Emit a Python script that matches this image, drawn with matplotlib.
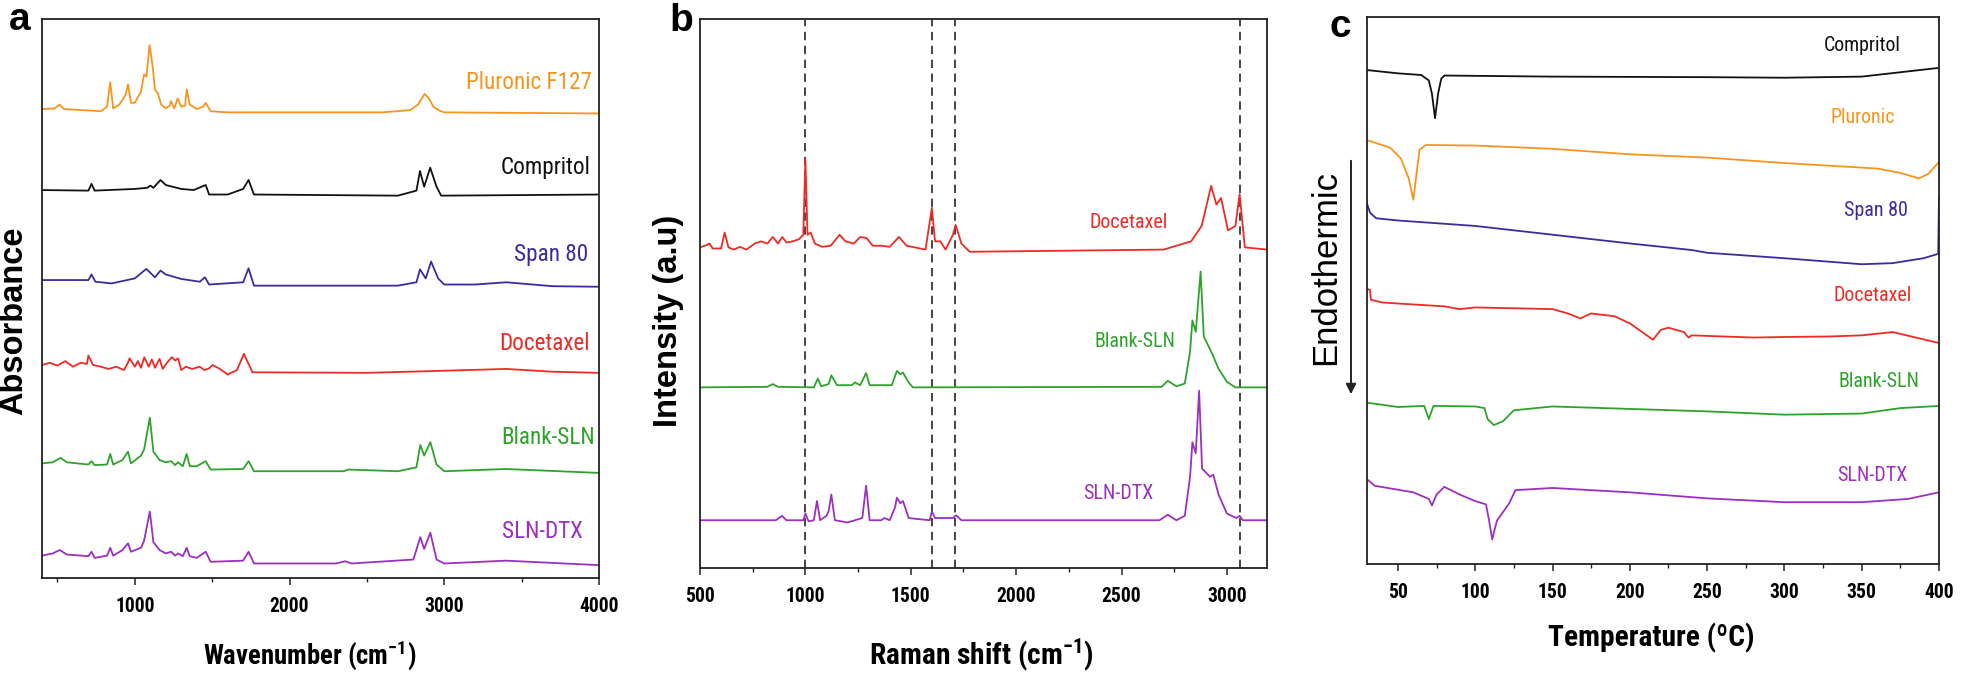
import numpy as np
import matplotlib
matplotlib.use("Agg")
from matplotlib import pyplot as plt
from matplotlib import font_manager
from matplotlib.ticker import MultipleLocator

# ---------------- data (a) FTIR ----------------
a_names = ["Pluronic F127", "Compritol", "Span 80", "Docetaxel", "Blank-SLN", "SLN-DTX"]
a_colors = ["#f7941d", "#111111", "#3b2c9e", "#ee2a24", "#2ea32a", "#9b2fc0"]

pluronic_x = [400, 480, 515, 540, 780, 820, 841, 860, 900, 940, 956, 975, 1000, 1040, 1060, 1075, 1095, 1115,
              1130, 1150, 1170, 1200, 1225, 1233, 1255, 1277, 1300, 1325, 1335, 1355, 1400, 1440, 1458, 1490,
              1600, 2000, 2600, 2780, 2830, 2873, 2900, 2930, 2970, 3000, 4000]
pluronic_y = [8.39, 8.40, 8.47, 8.39, 8.35, 8.43, 8.87, 8.40, 8.47, 8.64, 8.83, 8.50, 8.50, 8.70, 9.01, 8.97, 9.53, 9.16,
              8.74, 8.66, 8.47, 8.40, 8.45, 8.53, 8.40, 8.58, 8.43, 8.45, 8.74, 8.47, 8.39, 8.43, 8.50, 8.35,
              8.33, 8.33, 8.33, 8.37, 8.47, 8.66, 8.58, 8.43, 8.36, 8.33, 8.31]

compritol_x = [400, 700, 720, 740, 1000, 1080, 1100, 1120, 1166, 1200, 1300, 1380, 1458, 1480, 1600, 1700, 1735,
               1770, 2700, 2820, 2843, 2870, 2909, 2950, 2980, 4000]
compritol_y = [6.94, 6.93, 7.05, 6.93, 6.96, 6.98, 7.02, 6.98, 7.12, 7.03, 6.96, 6.94, 7.03, 6.86, 6.86, 6.96, 7.12,
               6.86, 6.84, 6.93, 7.28, 7.00, 7.34, 7.00, 6.84, 6.86]

span_x = [400, 700, 720, 745, 850, 950, 1000, 1074, 1130, 1166, 1200, 1300, 1420, 1453, 1480, 1700, 1735, 1770,
          2700, 2820, 2843, 2880, 2915, 2960, 3000, 3200, 3400, 3700, 4000]
span_y = [5.33, 5.33, 5.43, 5.30, 5.27, 5.33, 5.36, 5.53, 5.38, 5.50, 5.43, 5.35, 5.30, 5.38, 5.25, 5.29, 5.54, 5.23,
          5.23, 5.29, 5.52, 5.36, 5.66, 5.36, 5.25, 5.25, 5.29, 5.22, 5.21]

doce_a_x = [400, 450, 500, 550, 600, 650, 690, 700, 730, 780, 830, 880, 930, 955, 966, 1000, 1020, 1040, 1061,
            1090, 1110, 1130, 1160, 1180, 1210, 1240, 1260, 1280, 1300, 1330, 1370, 1420, 1450, 1480, 1502,
            1550, 1600, 1660, 1705, 1730, 1760, 2500, 2900, 3400, 3700, 4000]
doce_a_y = [3.81, 3.85, 3.80, 3.88, 3.78, 3.85, 3.83, 3.98, 3.81, 3.78, 3.74, 3.78, 3.72, 3.85, 3.93, 3.78, 3.88, 3.76, 3.95,
            3.78, 3.91, 3.76, 3.92, 3.74, 3.86, 3.95, 3.89, 3.93, 3.72, 3.78, 3.74, 3.78, 3.72, 3.75, 3.81,
            3.74, 3.64, 3.72, 4.01, 3.86, 3.68, 3.67, 3.70, 3.74, 3.69, 3.67]

blank_a_x = [400, 470, 520, 560, 700, 720, 740, 820, 841, 860, 920, 956, 975, 1040, 1060, 1097, 1120, 1160, 1200,
             1235, 1260, 1280, 1310, 1335, 1355, 1400, 1458, 1490, 1700, 1735, 1770, 2350, 2380, 2700, 2820,
             2845, 2870, 2910, 2950, 3000, 3400, 4000]
blank_a_y = [2.05, 2.07, 2.15, 2.07, 2.03, 2.09, 2.02, 2.03, 2.22, 2.03, 2.11, 2.26, 2.05, 2.19, 2.30, 2.87, 2.26, 2.11, 2.07,
             2.09, 2.02, 2.07, 2.00, 2.22, 2.00, 2.00, 2.09, 1.94, 1.95, 2.09, 1.91, 1.91, 1.94, 1.91, 1.98,
             2.38, 2.19, 2.43, 2.03, 1.91, 1.95, 1.88]

sln_a_x = [400, 470, 515, 560, 700, 720, 740, 820, 841, 860, 920, 956, 975, 1040, 1060, 1097, 1120, 1160, 1200,
           1235, 1260, 1280, 1310, 1335, 1355, 1400, 1458, 1490, 1700, 1735, 1770, 2300, 2360, 2400, 2800,
           2845, 2870, 2910, 2950, 3000, 3400, 4000]
sln_a_y = [0.40, 0.44, 0.50, 0.42, 0.39, 0.47, 0.36, 0.40, 0.54, 0.40, 0.50, 0.62, 0.47, 0.54, 0.67, 1.19, 0.64, 0.50, 0.44,
           0.47, 0.40, 0.44, 0.39, 0.54, 0.39, 0.36, 0.47, 0.29, 0.31, 0.47, 0.26, 0.26, 0.30, 0.26, 0.33,
           0.73, 0.52, 0.81, 0.33, 0.26, 0.31, 0.23]

a_label_x = [3955, 3942, 3930, 3937, 3975, 3893]
a_label_y = [8.87, 7.34, 5.79, 4.20, 2.51, 0.83]

# ---------------- data (b) Raman ----------------
b_names = ["Docetaxel", "Blank-SLN", "SLN-DTX"]
b_colors = ["#ee2a24", "#2ea32a", "#9b2fc0"]
b_dashed = [1000, 1600, 1710, 3060]

doce_b_x = [500, 530, 545, 560, 600, 617, 635, 660, 690, 720, 760, 790, 820, 845, 870, 890, 910, 940, 970, 990,
            1000, 1010, 1025, 1045, 1080, 1120, 1162, 1190, 1230, 1260, 1290, 1320, 1360, 1400, 1444, 1480,
            1570, 1600, 1615, 1640, 1665, 1700, 1713, 1740, 1780, 2700, 2830, 2880, 2925, 2950, 2972, 3005,
            3040, 3060, 3085, 3190]
doce_b_y = [5.84, 5.88, 5.91, 5.82, 5.82, 6.11, 5.84, 5.80, 5.85, 5.80, 5.91, 5.95, 5.91, 6.03, 5.91, 6.03, 5.93, 5.95, 5.99, 6.07,
            7.45, 6.07, 6.11, 5.91, 5.85, 5.87, 6.07, 5.95, 5.91, 6.03, 6.01, 5.87, 5.87, 5.85, 6.03, 5.87,
            5.80, 6.56, 5.95, 5.95, 5.80, 6.07, 6.25, 5.91, 5.76, 5.80, 5.95, 6.23, 6.96, 6.62, 6.74, 6.15,
            6.23, 6.81, 5.84, 5.80]

blank_b_x = [500, 820, 845, 870, 1040, 1059, 1075, 1110, 1123, 1150, 1220, 1235, 1260, 1288, 1305, 1410, 1434,
             1450, 1463, 1490, 1510, 2690, 2719, 2760, 2800, 2825, 2836, 2852, 2875, 2890, 2905, 2930, 2960,
             3000, 3040, 3190]
blank_b_y = [3.29, 3.30, 3.35, 3.30, 3.29, 3.45, 3.31, 3.35, 3.51, 3.33, 3.33, 3.38, 3.33, 3.55, 3.33, 3.33, 3.59,
             3.53, 3.56, 3.38, 3.29, 3.30, 3.41, 3.31, 3.36, 3.94, 4.51, 4.30, 5.40, 4.22, 4.10, 3.90, 3.63,
             3.39, 3.29, 3.29]

sln_b_x = [500, 860, 889, 910, 990, 1000, 1015, 1040, 1055, 1070, 1100, 1110, 1123, 1140, 1200, 1270, 1288, 1305,
           1360, 1375, 1400, 1425, 1434, 1450, 1463, 1490, 1590, 1600, 1615, 1700, 1715, 1740, 2680, 2719,
           2760, 2800, 2825, 2836, 2852, 2868, 2882, 2900, 2920, 2935, 2960, 3000, 3045, 3060, 3075, 3190]
sln_b_y = [0.87, 0.87, 0.95, 0.87, 0.87, 0.99, 0.85, 0.87, 1.22, 0.87, 0.95, 1.03, 1.34, 0.87, 0.83, 0.91, 1.50, 0.87,
           0.87, 0.91, 0.87, 1.10, 1.28, 1.18, 1.22, 0.91, 0.87, 1.03, 0.91, 0.91, 0.96, 0.87, 0.87, 0.97,
           0.87, 0.95, 1.66, 2.29, 2.09, 3.23, 1.81, 1.74, 1.66, 1.70, 1.34, 0.99, 0.91, 0.95, 0.87, 0.87]

b_label_x = [2534, 2563, 2485]
b_label_y = [6.29, 4.12, 1.36]

# ---------------- data (c) DSC ----------------
c_names = ["Compritol", "Pluronic", "Span 80", "Docetaxel", "Blank-SLN", "SLN-DTX"]
c_colors = ["#111111", "#f7941d", "#3b2c9e", "#ee2a24", "#2ea32a", "#9b2fc0"]

comp_c_x = [30, 50, 65, 70, 72, 74, 76, 78, 80, 150, 250, 300, 350, 400]
comp_c_y = [9.03, 8.97, 8.94, 8.84, 8.60, 8.15, 8.60, 8.87, 8.93, 8.91, 8.90, 8.89, 8.91, 9.07]

plur_c_x = [30, 45, 52, 57, 60, 62, 64, 68, 100, 150, 200, 250, 300, 360, 375, 387, 393, 400]
plur_c_y = [7.75, 7.61, 7.41, 7.05, 6.66, 7.13, 7.57, 7.66, 7.65, 7.59, 7.49, 7.43, 7.33, 7.23, 7.15, 7.05, 7.13, 7.35]

span_c_x = [30, 32, 36, 50, 100, 150, 200, 240, 250, 300, 350, 370, 390, 399.5, 400]
span_c_y = [6.59, 6.42, 6.32, 6.28, 6.18, 6.02, 5.86, 5.74, 5.69, 5.59, 5.48, 5.50, 5.59, 5.67, 6.70]

doce_c_x = [30, 32, 32.5, 40, 80, 90, 100, 150, 160, 168, 175, 190, 200, 210, 215, 220, 225, 235, 238, 240,
            260, 280, 300, 330, 350, 370, 400]
doce_c_y = [5.03, 5.01, 4.83, 4.78, 4.71, 4.66, 4.69, 4.66, 4.58, 4.49, 4.58, 4.53, 4.40, 4.20, 4.10, 4.28, 4.32, 4.24, 4.14, 4.18,
            4.16, 4.14, 4.15, 4.16, 4.18, 4.24, 4.04]

blank_c_x = [30, 50, 67, 70, 73, 100, 106, 108, 112, 118, 125, 150, 250, 300, 350, 375, 400]
blank_c_y = [2.95, 2.87, 2.89, 2.65, 2.89, 2.88, 2.85, 2.65, 2.54, 2.61, 2.81, 2.88, 2.79, 2.73, 2.75, 2.85, 2.89]

sln_c_x = [30, 35, 60, 70, 72, 75, 80, 90, 100, 107, 109, 111, 114, 118, 122, 126, 150, 200, 250, 300, 350, 380, 400]
sln_c_y = [1.55, 1.43, 1.31, 1.19, 1.07, 1.27, 1.41, 1.27, 1.15, 1.09, 0.79, 0.45, 0.79, 0.95, 1.11, 1.35, 1.39, 1.31,
           1.20, 1.13, 1.13, 1.19, 1.31]

c_label_x = [350, 351, 359, 357, 361, 357]
c_label_y = [9.47, 8.16, 6.47, 4.91, 3.33, 1.62]

# ---------------- fonts ----------------
# the original text is squeezed sideways, so use a narrow face when one exists
names = {f.name for f in font_manager.fontManager.ttflist}
NF, k = "Liberation Sans", 1.05
for cand, scale in [("Liberation Sans Narrow", 1.22), ("Roboto Condensed", 1.15),
                    ("Open Sans Condensed", 1.1)]:
    if cand in names:
        NF, k = cand, scale
        break
WF = "Liberation Sans"

plt.rcParams['font.family'] = [NF, 'DejaVu Sans']
plt.rcParams['mathtext.fontset'] = 'custom'
plt.rcParams['mathtext.rm'] = NF
plt.rcParams['mathtext.bf'] = NF + ':bold'
plt.rcParams['mathtext.default'] = 'bf'
plt.rcParams['lines.scale_dashes'] = False

W, H = 1961, 681
fig = plt.figure(figsize=(W / 100, H / 100), dpi=100)


def px_axes(l, r, t, b):
    return fig.add_axes([l / W, 1 - b / H, (r - l) / W, (b - t) / H])


def fx(x):
    return x / W


def fy(y):
    return 1 - y / H


def style(ax, major, minor, fs):
    for s in ax.spines.values():
        s.set_linewidth(1.3)
        s.set_color("#222222")
    ax.set_yticks([])
    ax.xaxis.set_major_locator(MultipleLocator(major))
    ax.xaxis.set_minor_locator(MultipleLocator(minor))
    ax.tick_params(axis='x', which='major', direction='out', length=4.7, width=1.1, pad=9,
                   labelsize=fs * k, colors="#222222")
    ax.tick_params(axis='x', which='minor', direction='out', length=3, width=1.0, colors="#222222")
    for t in ax.get_xticklabels():
        t.set_fontweight('bold')
        t.set_color('black')


# ---- panel a ----
ax1 = px_axes(42, 599, 19, 578)
a_x = [pluronic_x, compritol_x, span_x, doce_a_x, blank_a_x, sln_a_x]
a_y = [pluronic_y, compritol_y, span_y, doce_a_y, blank_a_y, sln_a_y]
for xs, ys, c in zip(a_x, a_y, a_colors):
    ax1.plot(xs, ys, color=c, lw=1.3)
for name, c, lx, ly in zip(a_names, a_colors, a_label_x, a_label_y):
    ax1.text(lx, ly, name, color=c, ha='right', va='center', fontsize=14.5 * k)
ax1.set_xlim(400, 4000)
ax1.set_ylim(0, 10)
style(ax1, 1000, 500, 12.3)

# ---- panel b ----
ax2 = px_axes(700, 1267, 19, 568)
for xv in b_dashed:
    ax2.axvline(xv, color="#444444", lw=1.4, dashes=(6, 4))
b_x = [doce_b_x, blank_b_x, sln_b_x]
b_y = [doce_b_y, blank_b_y, sln_b_y]
for xs, ys, c in zip(b_x, b_y, b_colors):
    ax2.plot(xs, ys, color=c, lw=1.3)
for name, c, lx, ly in zip(b_names, b_colors, b_label_x, b_label_y):
    ax2.text(lx, ly, name, color=c, ha='center', va='center', fontsize=12.5 * k)
ax2.set_xlim(500, 3190)
ax2.set_ylim(0, 10)
style(ax2, 500, 250, 12.3)

# ---- panel c ----
ax3 = px_axes(1367, 1939, 17, 564)
c_x = [comp_c_x, plur_c_x, span_c_x, doce_c_x, blank_c_x, sln_c_x]
c_y = [comp_c_y, plur_c_y, span_c_y, doce_c_y, blank_c_y, sln_c_y]
for xs, ys, c in zip(c_x, c_y, c_colors):
    ax3.plot(xs, ys, color=c, lw=1.3)
for name, c, lx, ly in zip(c_names, c_colors, c_label_x, c_label_y):
    ax3.text(lx, ly, name, color=c, ha='center', va='center', fontsize=12.5 * k)
ax3.set_xlim(30, 400)
ax3.set_ylim(0, 10)
style(ax3, 50, 25, 12.3)

# ---- axis titles, panel letters ----
fig.text(fx(14), fy(321), "Absorbance", rotation=90, ha='center', va='center',
         fontsize=23.5, fontweight='bold', family=[WF, 'DejaVu Sans'])
fig.text(fx(669), fy(321), "Intensity (a.u)", rotation=90, ha='center', va='center',
         fontsize=23.5, fontweight='bold', family=[WF, 'DejaVu Sans'])
fig.text(fx(1326), fy(268), "Endothermic", rotation=90, ha='center', va='center',
         fontsize=25, family=[WF, 'DejaVu Sans'])
fig.add_artist(matplotlib.patches.FancyArrowPatch((fx(1351), fy(158)), (fx(1351), fy(397)),
                                                  transform=fig.transFigure, arrowstyle='-|>',
                                                  mutation_scale=15, lw=1.4, color='#222222'))

fig.text(fx(310), fy(655), r"Wavenumber (cm$^{-1}$)", ha='center', va='center',
         fontsize=16.7 * k, fontweight='bold')
fig.text(fx(981), fy(655), r"Raman shift (cm$^{-1}$)", ha='center', va='center',
         fontsize=18.5 * k, fontweight='bold')
fig.text(fx(1651), fy(638), "Temperature (\u00baC)", ha='center', va='center',
         fontsize=18.5 * k, fontweight='bold')

fig.text(fx(20), fy(20), "a", ha='center', va='center', fontsize=28, fontweight='bold', family=[WF, 'DejaVu Sans'])
fig.text(fx(681), fy(21), "b", ha='center', va='center', fontsize=28, fontweight='bold', family=[WF, 'DejaVu Sans'])
fig.text(fx(1340), fy(27), "c", ha='center', va='center', fontsize=28, fontweight='bold', family=[WF, 'DejaVu Sans'])

fig.savefig("out.png", dpi=100)
